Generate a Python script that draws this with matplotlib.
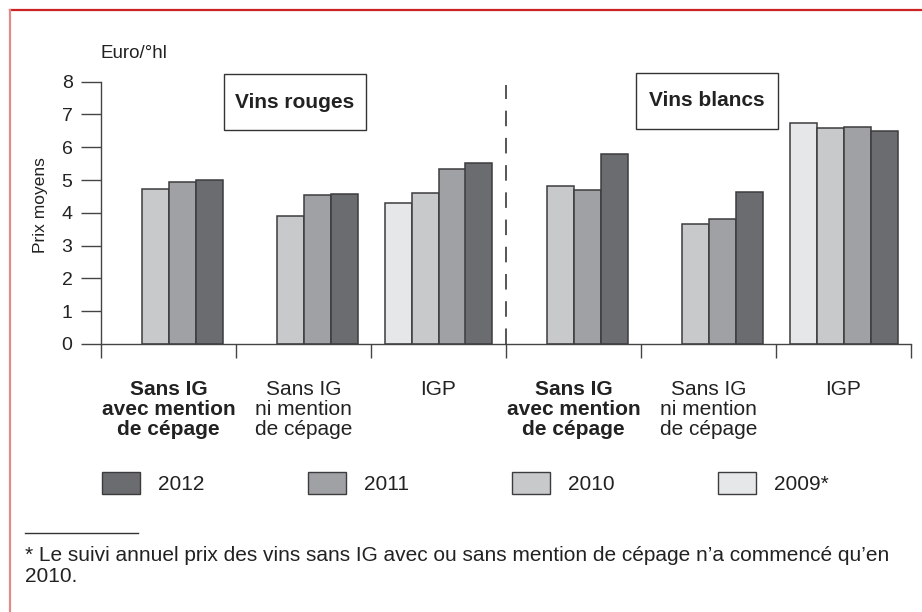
import numpy as np
import matplotlib
matplotlib.use("Agg")
import matplotlib.pyplot as plt
from matplotlib.lines import Line2D
from matplotlib.patches import Patch, Rectangle

# data (Euro/°hl)
categories = ["Sans IG\navec mention\nde cépage", "Sans IG\nni mention\nde cépage", "IGP",
              "Sans IG\navec mention\nde cépage", "Sans IG\nni mention\nde cépage", "IGP"]
bold_cats = [True, False, False, True, False, False]
years = ["2009*", "2010", "2011", "2012"]
prix_2009 = [np.nan, np.nan, 4.30, np.nan, np.nan, 6.73]
prix_2010 = [4.73, 3.91, 4.62, 4.82, 3.66, 6.60]
prix_2011 = [4.93, 4.53, 5.33, 4.70, 3.81, 6.63]
prix_2012 = [5.01, 4.57, 5.51, 5.79, 4.63, 6.49]
series = [prix_2009, prix_2010, prix_2011, prix_2012]
colors = ["#e6e7e8", "#c8c9cb", "#a0a1a5", "#6b6c70"]
panels = ["Vins rouges", "Vins blancs"]

plt.rcParams["font.family"] = ["Liberation Sans", "DejaVu Sans"]
ink = "#222222"

fig = plt.figure(figsize=(9.22, 6.12), dpi=100)
ax = fig.add_axes([101/922, 1-344/612, 810/922, (344-81.7)/612])

x = np.arange(len(categories)) + 0.5
w = 0.2
for i, (vals, c) in enumerate(zip(series, colors)):
    ax.bar(x + (i - 1.5) * w, vals, w, color=c, edgecolor="#3c3c3e", linewidth=1.1, zorder=2)

ax.set_xlim(0, 6)
ax.set_ylim(0, 8)
ax.set_yticks(range(9))
ax.tick_params(axis="y", direction="out", length=14.5, width=1, color="#444444",
               labelsize=14, pad=6, labelcolor=ink)
ax.set_xticks(range(7))
ax.set_xticklabels([])
ax.tick_params(axis="x", which="major", direction="out", length=10, width=1, color="#444444")
ax.set_xticks(x, minor=True)
ax.set_xticklabels(categories, minor=True)
ax.tick_params(axis="x", which="minor", length=0, pad=26)
for t, b in zip(ax.get_xticklabels(minor=True), bold_cats):
    t.set_fontsize(15)
    t.set_linespacing(1.05)
    t.set_color(ink)
    if b:
        t.set_fontweight("bold")

for s in ["top", "right"]:
    ax.spines[s].set_visible(False)
for s in ["left", "bottom"]:
    ax.spines[s].set_color("#444444")
    ax.spines[s].set_linewidth(1)

# separator between red and white wines
ax.plot([3, 3], [0, 7.9], color="#555555", lw=1.4, ls=(0, (8, 6)), zorder=1)

# panel title boxes
for (x0, x1, y0, y1), tx, ty, name in [((0.911, 1.963, 6.52, 8.23), 1.437, 7.38, panels[0]),
                                       ((3.963, 5.015, 6.56, 8.28), 4.49, 7.42, panels[1])]:
    ax.add_patch(Rectangle((x0, y0), x1 - x0, y1 - y0, facecolor="white", edgecolor="#333333",
                           linewidth=1, clip_on=False, zorder=3))
    ax.text(tx, ty, name, ha="center", va="center", fontsize=15, fontweight="bold",
            color=ink, zorder=4)

fig.text(100/922, 1-54/612, "Euro/°hl", ha="left", va="center", fontsize=13.5, color=ink)
fig.text(40/922, 1-205/612, "Prix moyens", ha="center", va="center", rotation=90,
         fontsize=12.5, color=ink)

order = [3, 2, 1, 0]
handles = [Patch(facecolor=colors[i], edgecolor="#3c3c3e", linewidth=1) for i in order]
labels = [years[i] for i in order]
leg = fig.legend(handles, labels, loc="center left", bbox_to_anchor=(102/922, 1-483/612),
                 ncol=4, frameon=False, handlelength=1.83, handleheight=1.3,
                 handletextpad=0.87, columnspacing=4.95, borderpad=0, borderaxespad=0,
                 prop={"size": 15})
for t in leg.get_texts():
    t.set_color(ink)

# footnote
fig.add_artist(Line2D([25/922, 138/922], [1-533/612, 1-533/612], color="#333333", lw=1))
fig.text(25/922, 1-582/612,
         "* Le suivi annuel prix des vins sans IG avec ou sans mention de cépage n\u2019a commencé qu\u2019en\n2010.",
         ha="left", va="baseline", fontsize=15, linespacing=1.15, color=ink)

# frame
fig.add_artist(Line2D([10/922, 1], [1-10/612, 1-10/612], color="#cc2222", lw=1.6))
fig.add_artist(Line2D([10/922, 10/922], [0, 1-10/612], color="#e08a8a", lw=1.6))

fig.savefig("out.png", dpi=100)
